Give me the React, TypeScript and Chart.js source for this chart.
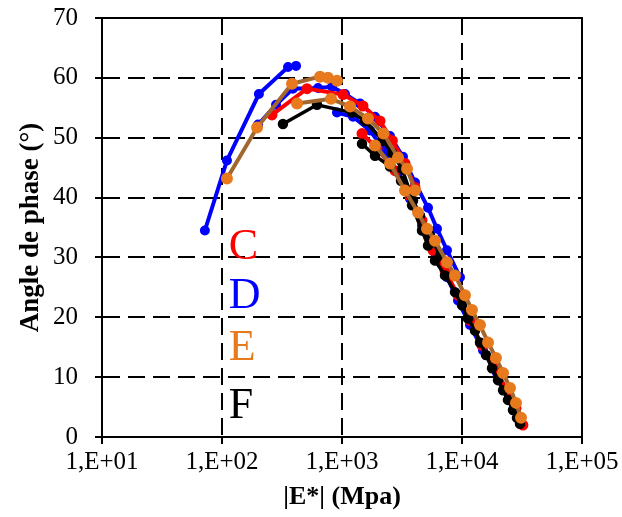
import React, { useEffect, useRef } from 'react';
import { Chart, registerables } from 'chart.js';

Chart.register(...registerables);

// ---- Data ----
const xTickValues = [10, 100, 1000, 10000, 100000];
const xTickLabels = ['1,E+01', '1,E+02', '1,E+03', '1,E+04', '1,E+05'];
const yTickValues = [0, 10, 20, 30, 40, 50, 60, 70];

// Series C (red) : |E*| (MPa) and phase angle (°); null = break between isotherms
const cModulus = [261, 511, 1020, 1496, 2074, 2630, 3350, 4060, null, 1468, 1958, 2766, 3687, 4642, 5728, 7217, 9261, 11659, 14678, 18836, 23714, 28184, 32176];
const cAngle = [53.8, 58.2, 57.2, 55.3, 52.8, 49.5, 45.7, 41.7, null, 50.7, 48.2, 44.5, 40.3, 36.2, 31.2, 27.8, 23.7, 19.5, 15.3, 11.5, 7.8, 4.8, 2.0];

// Series D (blue)
const dModulus = [72, 110, 203, 355, 414, null, 200, 282, 390, 631, 826, 1059, 1413, 1884, 2512, 3223, 4060, 5210, 6190, 7499, 9623, null, 908, 1235, 1711, 2281, 2929, 3687, 4642, 5957, 7499, 9261, 11659, 14962, 19577, 25119, 30432];
const dAngle = [34.5, 46.2, 57.3, 61.8, 62.0, null, 52.2, 55.5, 58.2, 58.3, 58.5, 57.3, 55.7, 53.5, 50.3, 46.8, 42.5, 38.3, 34.8, 31.2, 26.7, null, 54.2, 53.5, 51.2, 47.8, 44.2, 39.8, 35.3, 30.8, 26.7, 22.8, 18.7, 14.5, 10.7, 6.7, 3.2];

// Series E (brown line, orange markers)
const eModulus = [110, 196, 383, 656, 764, 908, null, 422, 810, 1166, 1647, 2213, 2929, 3483, 4060, null, 1884, 2512, 3350, 4299, 5106, 5957, 7499, 8743, 10593, 12115, 14125, 16480, 19187, 21979, 25119, 28184, 31037];
const eAngle = [43.2, 51.7, 59.0, 60.2, 60.0, 59.5, null, 55.7, 56.5, 55.2, 53.2, 50.7, 46.7, 44.8, 41.2, null, 48.7, 45.7, 41.2, 37.5, 34.8, 32.8, 29.2, 27.0, 23.7, 21.2, 18.7, 15.8, 13.2, 10.7, 8.2, 5.7, 3.2];

// Series F (black)
const fModulus = [322, 619, 1212, 1556, 2196, 2610, 3162, 3908, 4467, 5412, 6556, null, 1468, 1884, 2512, 3102, 3831, 4642, 5210, null, 5957, 7217, 8743, 10000, 11220, 12832, 14125, 15849, 17783, 19953, 21979, 24155, 26607, 28708, 30432];
const fAngle = [52.3, 55.5, 54.2, 52.8, 49.5, 47.5, 44.8, 39.5, 37.0, 33.7, 30.3, null, 49.0, 47.0, 45.2, 42.8, 38.7, 34.5, 32.0, null, 29.5, 27.0, 24.2, 22.0, 19.8, 17.8, 15.8, 13.7, 11.5, 9.5, 7.8, 6.2, 4.5, 3.2, 2.2];

const seriesNames = ['C', 'D', 'E', 'F'];

const SERIF = "'Liberation Serif', 'Times New Roman', serif";

function toPoints(xs: (number | null)[], ys: (number | null)[]) {
  let last = xs[0] as number;
  return xs.map((x, i) => {
    if (x === null || ys[i] === null) return { x: last, y: null };
    last = x;
    return { x, y: ys[i] };
  });
}

const framePlugin = {
  id: 'frameAndLetters',
  beforeDatasetsDraw(chart: any) {
    const { ctx, chartArea } = chart;
    const { left, top, right, bottom } = chartArea;
    ctx.save();
    ctx.setLineDash([]);
    ctx.strokeStyle = '#000';
    ctx.lineWidth = 2;
    ctx.strokeRect(left, top, right - left, bottom - top);
    ctx.restore();
  },
  afterDatasetsDraw(chart: any) {
    const { ctx, scales } = chart;
    const letters = [
      { t: seriesNames[0], y: 29.8, c: '#FF0000' },
      { t: seriesNames[1], y: 21.5, c: '#0000FF' },
      { t: seriesNames[2], y: 12.8, c: '#E87A1E' },
      { t: seriesNames[3], y: 3.2, c: '#000000' },
    ];
    ctx.save();
    ctx.font = `44px ${SERIF}`;
    ctx.textAlign = 'left';
    ctx.textBaseline = 'alphabetic';
    const px = scales.x.getPixelForValue(114);
    letters.forEach((l) => {
      ctx.fillStyle = l.c;
      ctx.fillText(l.t, px, scales.y.getPixelForValue(l.y));
    });
    ctx.restore();
  },
};

export default function App() {
  const ref = useRef<HTMLCanvasElement | null>(null);

  useEffect(() => {
    if (!ref.current) return;
    const chart = new Chart(ref.current, {
      type: 'line',
      data: {
        datasets: [
          {
            label: seriesNames[2],
            data: toPoints(eModulus, eAngle),
            borderColor: '#A2662F',
            backgroundColor: '#E87A1E',
            pointBackgroundColor: '#E87A1E',
            pointBorderColor: '#E87A1E',
            borderWidth: 4,
            pointRadius: 4,
            tension: 0,
          },
          {
            label: seriesNames[3],
            data: toPoints(fModulus, fAngle),
            borderColor: '#000000',
            backgroundColor: '#000000',
            borderWidth: 3.5,
            pointRadius: 3.5,
            tension: 0,
          },
          {
            label: seriesNames[0],
            data: toPoints(cModulus, cAngle),
            borderColor: '#FF0000',
            backgroundColor: '#FF0000',
            borderWidth: 4,
            pointRadius: 3.5,
            tension: 0,
          },
          {
            label: seriesNames[1],
            data: toPoints(dModulus, dAngle),
            borderColor: '#0000FF',
            backgroundColor: '#0000FF',
            borderWidth: 4,
            pointRadius: 3,
            tension: 0,
          },
        ],
      },
      options: {
        animation: false,
        responsive: false,
        maintainAspectRatio: false,
        spanGaps: false,
        layout: { padding: { left: 0, right: 40, top: 0, bottom: 0 } },
        plugins: {
          legend: { display: false },
          tooltip: { enabled: false },
        },
        elements: { point: { borderWidth: 0, hoverRadius: 0 } },
        scales: {
          x: {
            type: 'logarithmic',
            min: 10,
            max: 100000,
            afterBuildTicks: (scale: any) => {
              scale.ticks = xTickValues.map((v) => ({ value: v }));
            },
            afterFit: (scale: any) => {
              scale.height = 80;
            },
            ticks: {
              autoSkip: false,
              maxRotation: 0,
              color: '#000',
              padding: 3,
              font: { family: SERIF, size: 25 },
              callback: (value: any) => {
                const i = xTickValues.indexOf(Number(value));
                return i >= 0 ? xTickLabels[i] : '';
              },
            },
            grid: {
              color: '#000',
              lineWidth: 2,
              tickLength: 7,
              tickColor: '#000',
              tickWidth: 2,
            },
            border: { display: true, color: '#000', width: 2, dash: [17, 8] },
            title: {
              display: true,
              text: '|E*| (Mpa)',
              color: '#000',
              font: { family: SERIF, size: 26, weight: 'bold' },
              padding: { top: 0, bottom: 4 },
            },
          },
          y: {
            type: 'linear',
            min: 0,
            max: 70,
            afterBuildTicks: (scale: any) => {
              scale.ticks = yTickValues.map((v) => ({ value: v }));
            },
            afterFit: (scale: any) => {
              scale.width = 102;
            },
            ticks: {
              color: '#000',
              padding: 17,
              font: { family: SERIF, size: 25, lineHeight: 0.08 },
            },
            grid: {
              color: '#000',
              lineWidth: 2,
              tickLength: 7,
              tickColor: '#000',
              tickWidth: 2,
            },
            border: { display: true, color: '#000', width: 2, dash: [17, 8] },
            title: {
              display: true,
              text: 'Angle de phase (°)',
              color: '#000',
              font: { family: SERIF, size: 27, weight: 'bold' },
              padding: { top: 15, bottom: 0 },
            },
          },
        },
      },
      plugins: [framePlugin],
    } as any);
    return () => chart.destroy();
  }, []);

  return (
    <div style={{ position: 'absolute', left: 0, top: 0, width: 622, height: 517, background: '#fff' }}>
      <canvas ref={ref} width={622} height={517} style={{ width: 622, height: 517 }} />
    </div>
  );
}
